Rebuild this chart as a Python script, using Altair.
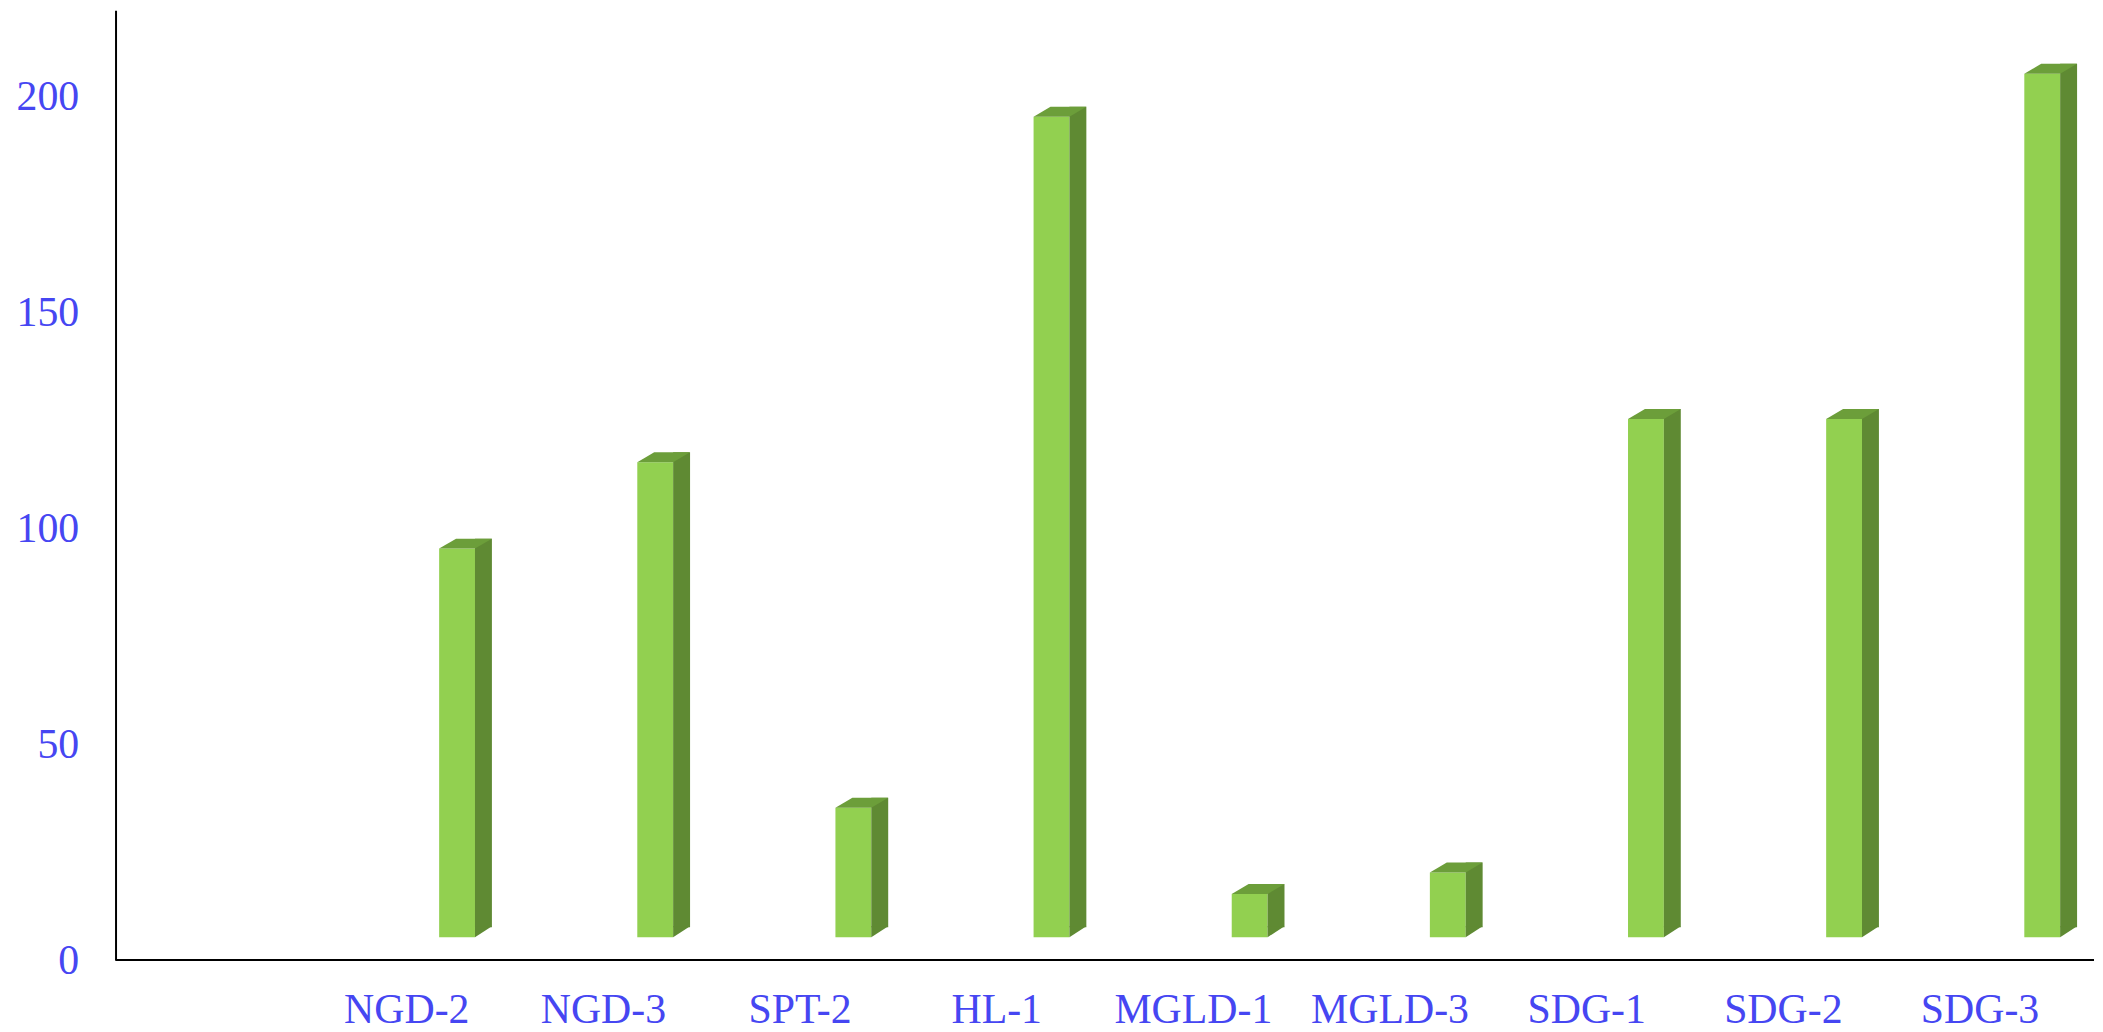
import altair as alt
import pandas as pd

# ---- data ----
categories = ["NGD-2", "NGD-3", "SPT-2", "HL-1", "MGLD-1", "MGLD-3", "SDG-1", "SDG-2", "SDG-3"]
values = [90, 110, 30, 190, 10, 15, 120, 120, 200]
axis_categories = [""] + categories          # first slot is empty in the reference
y_ticks = [0, 50, 100, 150, 200]

df = pd.DataFrame({"cat": categories, "value": values})
baseline = pd.DataFrame({"zero": [0]})

FONT = "Liberation Serif"
BLUE = "#4646F2"
FRONT = "#92D050"
SIDE = "#5F8A33"
TOP = "#6C9E3A"

# bars (drawn in 3-D perspective) sit on a slightly wider band grid than the labels
bar_x = alt.X(
    "cat:N", sort=axis_categories,
    scale=alt.Scale(domain=axis_categories, range=[44.5, 2034.5], paddingInner=0, paddingOuter=0),
    axis=None,
)
label_x = alt.X(
    "cat:N", sort=axis_categories,
    scale=alt.Scale(domain=axis_categories, range=[-4.25, 1970.75], paddingInner=0, paddingOuter=0),
    axis=alt.Axis(
        orient="bottom", title=None, labelAngle=0, labelFont=FONT, labelFontSize=42, labelColor=BLUE,
        labelBaseline="alphabetic", labelPadding=63, ticks=False, grid=False, domain=False,
        labelOverlap=False, labelLimit=400,
    ),
)
y_enc = alt.Y(
    "value:Q",
    scale=alt.Scale(domain=[0, 220], nice=False, zero=True),
    axis=alt.Axis(
        title=None, values=y_ticks, labelFont=FONT, labelFontSize=42, labelColor=BLUE,
        labelPadding=37, ticks=False, grid=False, domainColor="black", domainWidth=2,
    ),
)

base = alt.Chart(df)

labels = base.mark_point(opacity=0).encode(x=label_x, y=y_enc)
front = base.mark_bar(width=36, color=FRONT, yOffset=-23).encode(x=bar_x, y=y_enc)
side = base.mark_bar(width=17, color=SIDE, xOffset=26.5, yOffset=-33).encode(x=bar_x, y=y_enc)
top = base.mark_point(
    shape="M-26.5,5 L9.5,5 L26.5,-5 L-9.5,-5 Z", size=4, filled=True, color=TOP,
    opacity=1, strokeWidth=0, xOffset=8.5, yOffset=-28,
).encode(x=bar_x, y=y_enc)
side_foot = base.mark_point(
    shape="M-8.5,5 L-8.5,-6 L8.5,-6 Z", size=4, filled=True, color=SIDE,
    opacity=1, strokeWidth=0, xOffset=26.5, yOffset=-28,
).encode(x=bar_x, y=alt.datum(0))
x_axis_line = alt.Chart(baseline).mark_rule(color="black", strokeWidth=2).encode(y=alt.Y("zero:Q"))

chart = (
    alt.layer(labels, front, side, side_foot, top, x_axis_line)
    .resolve_scale(x="independent")
    .properties(width=1987, height=954, padding={"left": 8, "top": 0, "right": 0, "bottom": 0})
    .configure(background="white")
    .configure_view(stroke=None)
)

chart.save("out.html", embed_options={"renderer": "svg", "actions": False})
